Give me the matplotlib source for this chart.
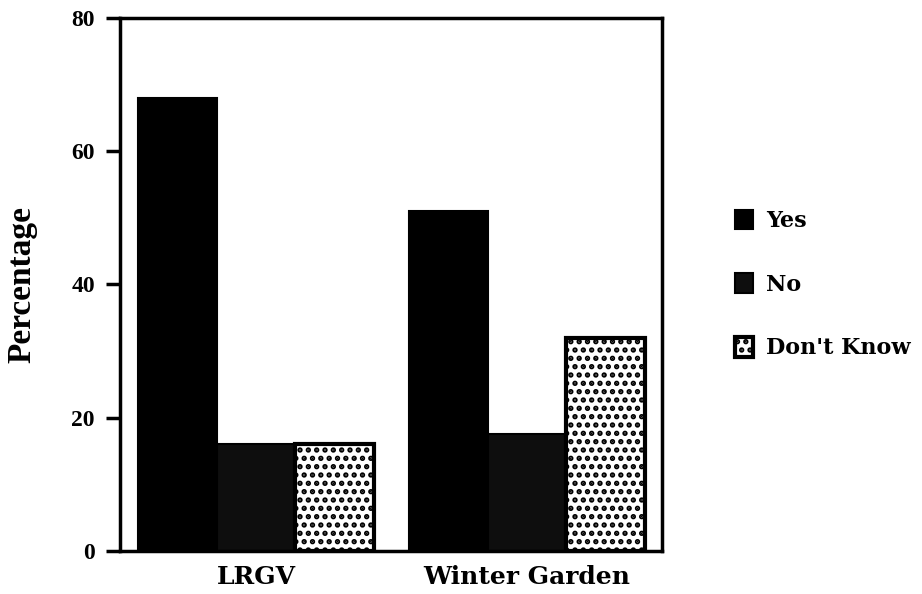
import numpy as np
import matplotlib
matplotlib.use('Agg')
import matplotlib.pyplot as plt

# ── Data ──────────────────────────────────────────────────────────────────────
regions   = ['LRGV', 'Winter Garden']
responses = ['Yes', 'No', "Don't Know"]
yes_pct   = [68, 51]
no_pct    = [16, 17.5]
dk_pct    = [16, 32]
y_ticks   = [0, 20, 40, 60, 80]

plt.rcParams['hatch.linewidth'] = 2.6

fig = plt.figure(figsize=(9.22, 5.94), dpi=100)
ax = fig.add_axes([0.130, 0.0724, 0.588, 0.8973])

group_x = np.array([0.0, 3.44])
width = 1.0

ax.bar(group_x - width, yes_pct, width, color='black', edgecolor='black',
       linewidth=1.5, label=responses[0])
ax.bar(group_x, no_pct, width, color='#0e0e0e', edgecolor='black',
       linewidth=1.5, label=responses[1])
ax.bar(group_x + width, dk_pct, width, color='white', edgecolor='black',
       linewidth=3, hatch='..', label=responses[2])

ax.set_xlim(-1.728, 5.155)
ax.set_ylim(0, 80)
ax.set_yticks(y_ticks)
ax.set_yticklabels([str(t) for t in y_ticks], family='Liberation Serif',
                   fontsize=17, fontweight='bold')
ax.set_xticks(group_x)
ax.set_xticklabels(regions, family='DejaVu Serif', fontsize=18,
                   fontweight='bold')
ax.tick_params(axis='x', length=0, pad=10)
ax.tick_params(axis='y', direction='out', length=10, width=2.5, pad=8)

for s in ax.spines.values():
    s.set_linewidth(2.5)

ax.set_ylabel('Percentage', family='Liberation Serif', fontsize=24,
              fontweight='bold', labelpad=24)

leg = fig.legend(loc='center left', bbox_to_anchor=(0.785, 0.521),
                 frameon=False, borderpad=0, handlelength=0.8,
                 handleheight=1.0, handletextpad=0.6, labelspacing=1.85,
                 prop={'family': 'DejaVu Serif', 'weight': 'bold', 'size': 16})

fig.savefig('out.png', dpi=100)
